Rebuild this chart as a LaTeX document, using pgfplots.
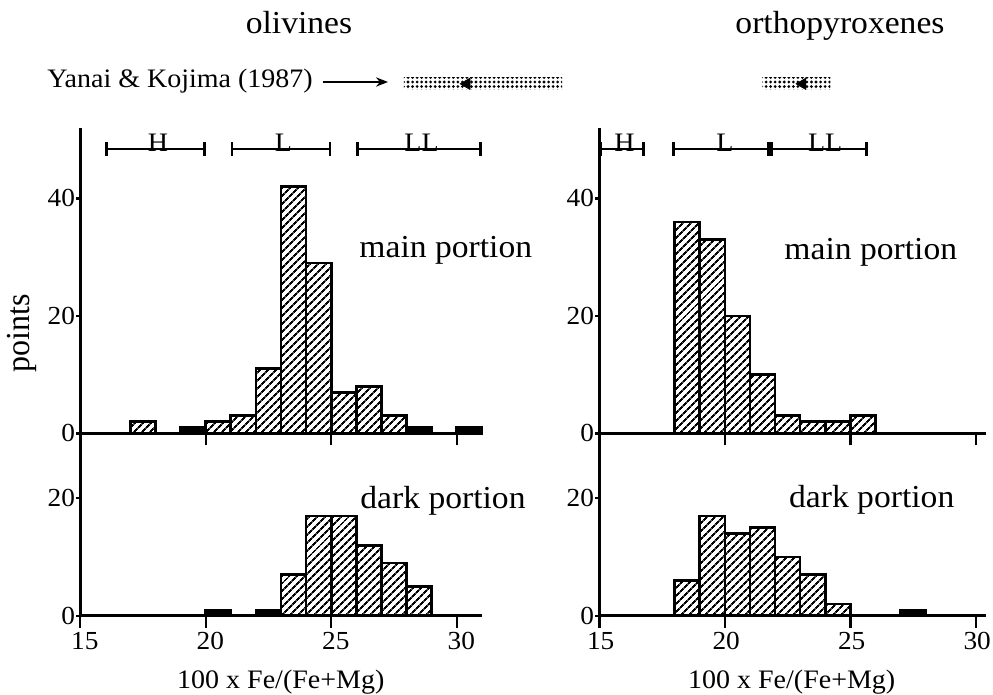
\documentclass[border=0pt]{standalone}
\usepackage{pgfplots}
\pgfplotsset{compat=1.18}
\usepackage{graphicx}
\usepackage{fontspec}
\setmainfont{Liberation Serif}
\usetikzlibrary{patterns,patterns.meta,arrows.meta}
\newcommand{\sx}[1]{\scalebox{1.05}[1]{#1}}
\newcommand{\fbig}{\fontsize{24}{27}\selectfont}
\newcommand{\fmid}{\fontsize{20}{23}\selectfont}
\newcommand{\flet}{\fontsize{20}{22}\selectfont}
\pgfplotsset{
  hist/.style={scale only axis, axis x line=bottom, axis y line=left,
    axis line style={-, line width=2pt}, tick style={line width=1.8pt, black},
    tick align=outside, xtick style={/pgfplots/major tick length=9pt},
    ytick style={/pgfplots/major tick length=3pt},
    clip=false, enlargelimits=false, xmin=15, ymin=0, anchor=south west,
    ticklabel style={font=\fontsize{19.5}{22}\selectfont},
    yticklabel style={inner sep=0.5pt, xshift=1pt}},
  hatched/.style={ybar, bar width=1, bar shift=0pt, draw=black, line width=2pt,
    pattern={Lines[angle=45,distance=4pt,line width=1.5pt]}},
  solidbar/.style={ybar, bar width=1, bar shift=0pt, draw=black, line width=2pt, fill=black},
  range/.style={line width=2pt, arrows={Bar[width=10pt]-Bar[width=10pt]}},
  stip/.style={draw=none, pattern={Dots[distance=3.4pt,radius=1.15pt]}},
  ahead/.style={only marks, mark=triangle*, mark size=5pt, mark options={rotate=90, fill=black, draw=black}},
  botticks/.style={xticklabel style={xshift=#1, yshift=-4.5pt}}
}
\begin{document}
\begin{tikzpicture}
\useasboundingbox (0,0) rectangle (744.75pt,520.5pt);
% ---------- olivines, main portion
\begin{axis}[hist, at={(60.15pt,195.5pt)}, width=301.2pt, height=229.1pt,
  xmax=31, ymax=52, xtick={20,25,30}, xticklabels={},
  ytick={0,20,40}, yticklabels={\sx{0},\sx{20},\sx{40}}]
\addplot[hatched] coordinates {(17.5,2) (20.5,2) (21.5,3) (22.5,11) (23.5,42) (24.5,29) (25.5,7) (26.5,8) (27.5,3)};
\addplot[solidbar] coordinates {(19.5,1) (28.5,1) (30.5,1)};
\addplot[range] coordinates {(16,48.4) (20,48.4)};
\addplot[range] coordinates {(21,48.4) (25,48.4)};
\addplot[range] coordinates {(26,48.4) (31,48.4)};
\node[anchor=base, inner sep=0pt, font=\flet] at (axis cs:18.1,48.0) {\sx{H}};
\node[anchor=base, inner sep=0pt, font=\flet] at (axis cs:23.1,48.0) {\sx{L}};
\node[anchor=base, inner sep=0pt, font=\flet] at (axis cs:28.6,48.0) {\sx{LL}};
\addplot[stip] coordinates {(27.9,58.55) (34.2,58.55) (34.2,60.5) (27.9,60.5) (27.9,58.55)};
\addplot[ahead] coordinates {(30.4,59.5)};
\end{axis}
% ---------- olivines, dark portion
\begin{axis}[hist, botticks=3.5pt, at={(60.15pt,58.7pt)}, width=301.2pt, height=136.8pt,
  xmax=31, ymax=31.05, xtick={15,20,25,30}, xticklabels={\sx{15},\sx{20},\sx{25},\sx{30}},
  ytick={0,20}, yticklabels={\sx{0},\sx{20}}]
\addplot[hatched] coordinates {(23.5,7) (24.5,17) (25.5,17) (26.5,12) (27.5,9) (28.5,5)};
\addplot[solidbar] coordinates {(20.5,1) (22.5,1)};
\end{axis}
% ---------- orthopyroxenes, main portion
\begin{axis}[hist, at={(449.5pt,195.5pt)}, width=289.9pt, height=229.1pt,
  xmax=30.4, ymax=52, xtick={20,25,30}, xticklabels={},
  ytick={0,20,40}, yticklabels={\sx{0},\sx{20},\sx{40}}]
\addplot[hatched] coordinates {(18.5,36) (19.5,33) (20.5,20) (21.5,10) (22.5,3) (23.5,2) (24.5,2) (25.5,3)};
\addplot[range] coordinates {(15,48.4) (16.8,48.4)};
\addplot[range] coordinates {(17.9,48.4) (21.8,48.4)};
\addplot[range] coordinates {(21.8,48.4) (25.7,48.4)};
\node[anchor=base, inner sep=0pt, font=\flet] at (axis cs:16.0,48.0) {\sx{H}};
\node[anchor=base, inner sep=0pt, font=\flet] at (axis cs:20.0,48.0) {\sx{L}};
\node[anchor=base, inner sep=0pt, font=\flet] at (axis cs:24.0,48.0) {\sx{LL}};
\addplot[stip] coordinates {(21.5,58.55) (24.2,58.55) (24.2,60.5) (21.5,60.5) (21.5,58.55)};
\addplot[ahead] coordinates {(23.1,59.5)};
\end{axis}
% ---------- orthopyroxenes, dark portion
\begin{axis}[hist, botticks=1pt, at={(449.5pt,58.7pt)}, width=289.9pt, height=136.8pt,
  xmax=30.4, ymax=31.05, xtick={15,20,25,30}, xticklabels={\sx{15},\sx{20},\sx{25},\sx{30}},
  ytick={0,20}, yticklabels={\sx{0},\sx{20}}]
\addplot[hatched] coordinates {(18.5,6) (19.5,17) (20.5,14) (21.5,15) (22.5,10) (23.5,7) (24.5,2)};
\addplot[solidbar] coordinates {(27.5,1)};
\end{axis}
% ---------- texts
\begin{scope}[shift={(0pt,520.5pt)}, x=0.75pt, y=-0.75pt]
\node[anchor=base, inner sep=0pt, font=\fbig] at (299,33.3) {\sx{olivines}};
\node[anchor=base, inner sep=0pt, font=\fbig] at (840,33.3) {\sx{orthopyroxenes}};
\node[anchor=west, inner sep=0pt, font=\fmid] at (47,81) {\sx{Yanai \& Kojima (1987)}};
\draw[line width=1.1pt, -{Stealth[length=9pt,width=7pt]}] (323,82) -- (388,82);
\node[inner sep=0pt, font=\fbig] at (445.8,250) {\sx{main portion}};
\node[inner sep=0pt, font=\fbig] at (870.8,252) {\sx{main portion}};
\node[inner sep=0pt, font=\fbig] at (443,501) {\sx{dark portion}};
\node[inner sep=0pt, font=\fbig] at (871.7,500) {\sx{dark portion}};
\node[inner sep=0pt, font=\fmid] at (280.8,682) {\sx{100 x Fe/(Fe+Mg)}};
\node[inner sep=0pt, font=\fmid] at (791.7,682) {\sx{100 x Fe/(Fe+Mg)}};
\node[inner sep=0pt, font=\fbig, rotate=90] at (22,333) {\scalebox{1}[1.05]{points}};
\end{scope}
\end{tikzpicture}
\end{document}
